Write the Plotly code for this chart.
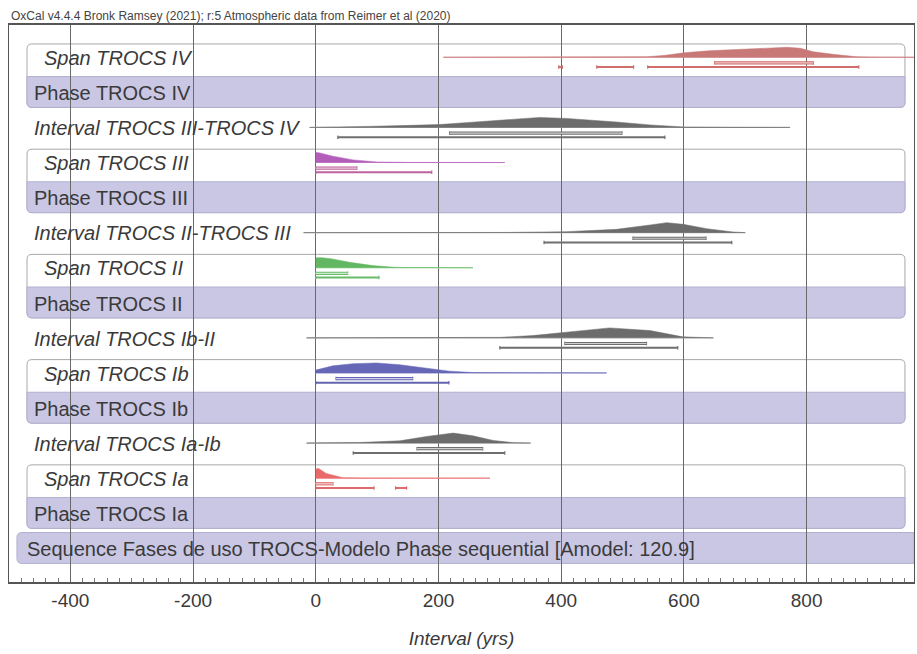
import plotly.graph_objects as go

# ---------------- data ----------------
HEADER = "OxCal v4.4.4 Bronk Ramsey (2021); r:5 Atmospheric data from Reimer et al (2020)"
X_TITLE = "Interval (yrs)"
tick_vals = [-400, -200, 0, 200, 400, 600, 800]
tick_text = ["-400", "-200", "0", "200", "400", "600", "800"]

row_labels = [
    "Span TROCS IV", "Phase TROCS IV", "Interval TROCS III-TROCS IV",
    "Span TROCS III", "Phase TROCS III", "Interval TROCS II-TROCS III",
    "Span TROCS II", "Phase TROCS II", "Interval TROCS Ib-II",
    "Span TROCS Ib", "Phase TROCS Ib", "Interval TROCS Ia-Ib",
    "Span TROCS Ia", "Phase TROCS Ia",
    "Sequence Fases de uso TROCS-Modelo Phase sequential [Amodel: 120.9]",
]
row_kinds = ["span", "phase", "interval", "span", "phase", "interval",
             "span", "phase", "interval", "span", "phase", "interval",
             "span", "phase", "sequence"]

# posterior densities (relative heights)
span4_x = [208, 400, 500, 540, 570, 600, 640, 680, 720, 768, 790, 811, 843, 882, 920, 975]
span4_p = [0, 0.01, 0.02, 0.05, 0.2, 0.45, 0.65, 0.78, 0.9, 1.0, 0.9, 0.55, 0.3, 0.05, 0.01, 0]
span4_r68 = [[650, 811]]
span4_r95 = [[396, 402], [458, 518], [541, 885]]

int34_x = [-10, 30, 83, 140, 202, 250, 300, 365, 409, 450, 490, 545, 600, 680, 773]
int34_p = [0, 0.02, 0.1, 0.18, 0.29, 0.5, 0.71, 1.0, 0.9, 0.75, 0.54, 0.25, 0.04, 0.01, 0]
int34_r68 = [[218, 499]]
int34_r95 = [[36, 569]]

span3_x = [0, 5, 28, 61, 100, 150, 308]
span3_p = [1.0, 0.98, 0.63, 0.26, 0.05, 0.01, 0]
span3_r68 = [[0, 67]]
span3_r95 = [[0, 189]]

int23_x = [-20, 200, 311, 409, 490, 545, 572, 599, 637, 680, 700]
int23_p = [0, 0.005, 0.02, 0.1, 0.33, 0.77, 1.0, 0.83, 0.4, 0.07, 0]
int23_r68 = [[517, 636]]
int23_r95 = [[372, 678]]

span2_x = [0, 10, 25, 55, 93, 132, 256]
span2_p = [1.0, 1.0, 0.9, 0.54, 0.21, 0.03, 0]
span2_r68 = [[0, 52]]
span2_r95 = [[0, 103]]

intb2_x = [-15, 200, 300, 354, 409, 479, 545, 572, 598, 648]
intb2_p = [0, 0.01, 0.05, 0.23, 0.6, 1.0, 0.73, 0.43, 0.1, 0]
intb2_r68 = [[406, 539]]
intb2_r95 = [[300, 590]]

spanb_x = [0, 28, 61, 99, 137, 181, 218, 256, 320, 474]
spanb_p = [0.29, 0.71, 0.93, 1.0, 0.82, 0.46, 0.18, 0.04, 0.01, 0]
spanb_r68 = [[33, 158]]
spanb_r95 = [[0, 217]]

intab_x = [-15, 40, 72, 137, 181, 224, 256, 289, 322, 350]
intab_p = [0, 0.02, 0.06, 0.23, 0.67, 1.0, 0.73, 0.27, 0.04, 0]
intab_r68 = [[165, 272]]
intab_r95 = [[61, 308]]

spana_x = [0, 4, 17, 33, 44, 80, 284]
spana_p = [0.9, 1.0, 0.48, 0.18, 0.05, 0.01, 0]
spana_r68 = [[0, 28]]
spana_r95 = [[0, 95], [130, 148]]

# ---------------- styles ----------------
FONT = "Liberation Sans, Arial, sans-serif"
TXT = "#3a3a3a"
GREY = dict(fill="#6c6c6c", base="#b8b8b8", bar="#6e6e6e", bar_in="#cfcfcf")
series = [
    (0, span4_x, span4_p, span4_r68, span4_r95,
     dict(fill="#c97878", base="#e4a8a8", bar="#cf6c6c", bar_in="#f0c8c8")),
    (2, int34_x, int34_p, int34_r68, int34_r95, GREY),
    (3, span3_x, span3_p, span3_r68, span3_r95,
     dict(fill="#b35fba", base="#dcb0dc", bar="#c0609e", bar_in="#eccbe0")),
    (5, int23_x, int23_p, int23_r68, int23_r95, GREY),
    (6, span2_x, span2_p, span2_r68, span2_r95,
     dict(fill="#62b862", base="#b8e0b8", bar="#68bb68", bar_in="#cdeccd")),
    (8, intb2_x, intb2_p, intb2_r68, intb2_r95, GREY),
    (9, spanb_x, spanb_p, spanb_r68, spanb_r95,
     dict(fill="#6767b8", base="#b4b4dc", bar="#6464b0", bar_in="#d0d0ec")),
    (11, intab_x, intab_p, intab_r68, intab_r95, GREY),
    (12, spana_x, spana_p, spana_r68, spana_r95,
     dict(fill="#e86a6a", base="#f2b0b0", bar="#e06a6a", bar_in="#f8d0d0")),
]

PEAK = 0.285      # peak height in row units
OFF68 = 0.14
OFF95 = 0.26
CAP = 0.05

fig = go.Figure()

for row, xs, ps, r68, r95, c in series:
    base = row - 0.02
    tops = [base - p * PEAK for p in ps]
    # baseline
    fig.add_trace(go.Scatter(x=[xs[0], xs[-1]], y=[base, base], mode="lines",
                             line=dict(color=c["base"], width=1),
                             hoverinfo="skip", showlegend=False))
    # density
    fig.add_trace(go.Scatter(x=list(xs) + list(xs[::-1]),
                             y=tops + [base] * len(xs),
                             fill="toself", fillcolor=c["fill"], mode="lines",
                             line=dict(color=c["fill"], width=0.5),
                             hoverinfo="skip", showlegend=False))
    # ranges
    for rng, off, hollow in ((r68, OFF68, True), (r95, OFF95, False)):
        y = row + off
        bx, by, cx, cy = [], [], [], []
        for a, b in rng:
            bx += [a, b, None]
            by += [y, y, None]
            cx += [a, a, None, b, b, None]
            cy += [y - CAP, y + CAP, None, y - CAP, y + CAP, None]
        fig.add_trace(go.Scatter(x=cx, y=cy, mode="lines",
                                 line=dict(color=c["bar"], width=1.2),
                                 hoverinfo="skip", showlegend=False))
        fig.add_trace(go.Scatter(x=bx, y=by, mode="lines",
                                 line=dict(color=c["bar"], width=3.2 if hollow else 2),
                                 hoverinfo="skip", showlegend=False))
        if hollow:
            fig.add_trace(go.Scatter(x=bx, y=by, mode="lines",
                                     line=dict(color=c["bar_in"], width=1.2),
                                     hoverinfo="skip", showlegend=False))


def rpath(x0, x1, y0, y1, rx=0.0055, ry=0.14, top=True, bottom=True, left=True, right=True):
    tl = top and left
    tr = top and right
    br = bottom and right
    bl = bottom and left
    p = f"M {x0 + (rx if tl else 0)},{y0} L {x1 - (rx if tr else 0)},{y0} "
    p += (f"Q {x1},{y0} {x1},{y0 + ry} " if tr else "")
    p += f"L {x1},{y1 - (ry if br else 0)} "
    p += (f"Q {x1},{y1} {x1 - rx},{y1} " if br else "")
    p += f"L {x0 + (rx if bl else 0)},{y1} "
    p += (f"Q {x0},{y1} {x0},{y1 - ry} " if bl else "")
    p += f"L {x0},{y0 + (ry if tl else 0)} "
    p += (f"Q {x0},{y0} {x0 + rx},{y0} " if tl else "")
    return p + "Z"


BX0, BX1 = 0.0199, 0.990
shapes = []
annotations = []
for i, (lab, kind) in enumerate(zip(row_labels, row_kinds)):
    if kind == "span":
        shapes.append(dict(type="path", xref="paper", yref="y", layer="below",
                           path=rpath(BX0, BX1, i - 0.40, i + 1 + 0.41),
                           fillcolor="white", line=dict(color="#a8a8a8", width=1)))
    elif kind == "phase":
        shapes.append(dict(type="path", xref="paper", yref="y", layer="below",
                           path=rpath(BX0, BX1, i - 0.47, i + 0.41, top=False),
                           fillcolor="#c9c7e3", line=dict(color="#b2b0d2", width=1)))
    elif kind == "sequence":
        shapes.append(dict(type="path", xref="paper", yref="y", layer="below",
                           path=rpath(0.0088, 1.0, i - 0.47, i + 0.41, right=False),
                           fillcolor="#c9c7e3", line=dict(color="#b2b0d2", width=1)))
    xpos = {"span": 0.0365, "phase": 0.0254, "interval": 0.0254, "sequence": 0.0177}[kind]
    italic = kind in ("span", "interval")
    annotations.append(dict(x=xpos, xref="paper", y=i, yref="y", text=lab,
                            showarrow=False, xanchor="left", yanchor="middle",
                            font=dict(family=FONT, size=20, color=TXT,
                                      style="italic" if italic else "normal")))

annotations.append(dict(x=0, xref="paper", y=1, yref="paper", text=HEADER,
                        showarrow=False, xanchor="left", yanchor="bottom", yshift=0,
                        font=dict(family=FONT, size=12, color="#444444")))

fig.update_layout(
    width=917, height=654,
    margin=dict(l=9, r=3, t=25, b=72),
    paper_bgcolor="white", plot_bgcolor="white",
    shapes=shapes, annotations=annotations,
    showlegend=False,
    xaxis=dict(range=[-500, 975], tickvals=tick_vals, ticktext=tick_text,
               showgrid=True, gridcolor="#6a6a6a", gridwidth=1, zeroline=False,
               showline=True, linecolor="#555555", linewidth=1.5, mirror=True,
               ticks="inside", ticklen=8, tickcolor="#666666",
               minor=dict(dtick=20, ticks="inside", ticklen=4, tickcolor="#777777", showgrid=False),
               tickfont=dict(family=FONT, size=19, color="#3a3a3a"),
               title=dict(text=X_TITLE, standoff=22,
                          font=dict(family=FONT, size=19, color="#3a3a3a", style="italic")),
               fixedrange=True),
    yaxis=dict(range=[14.94, -0.94], showgrid=False, zeroline=False,
               showticklabels=False, ticks="", showline=True, linecolor="#555555",
               linewidth=1, mirror=True, fixedrange=True),
)

fig.write_html("out.html")
